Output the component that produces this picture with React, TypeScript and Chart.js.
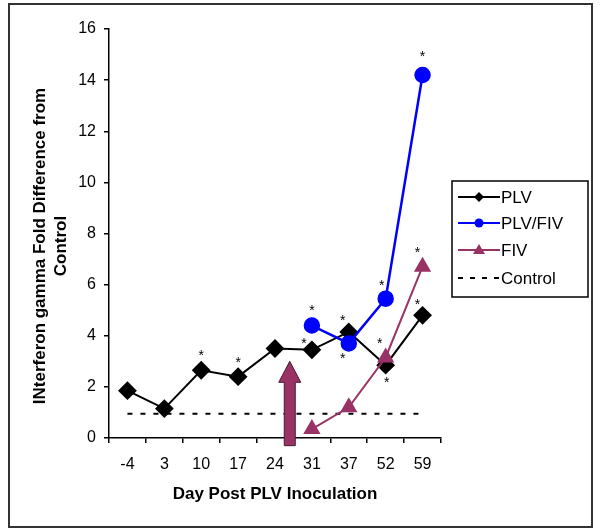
import React, { useEffect, useRef } from "react";
import { Chart, registerables } from "chart.js";

Chart.register(...registerables);

const days = ["-4", "3", "10", "17", "24", "31", "37", "52", "59"];
const plv = [1.85, 1.15, 2.65, 2.4, 3.5, 3.45, 4.15, 2.85, 4.8];
const plvFiv = [null, null, null, null, null, 4.4, 3.7, 5.45, 14.2];
const fiv = [null, null, null, null, null, 0.35, 1.2, 3.15, 6.7];
const control = [0.95, 0.95, 0.95, 0.95, 0.95, 0.95, 0.95, 0.95, 0.95];
const yTicks = [0, 2, 4, 6, 8, 10, 12, 14, 16];
const yTitle = ["INterferon gamma Fold Difference from", "Control"];
const xTitle = "Day Post PLV Inoculation";

// significance marks: [datasetIndex, pointIndex, dx, dy]
const stars: [number, number, number, number][] = [
  [0, 2, 0, -17],
  [0, 3, 0, -17],
  [0, 5, -8, -9],
  [0, 6, -6, -14],
  [0, 7, 1, 15],
  [0, 8, -5, -13],
  [1, 5, 0, -17],
  [1, 6, -6, 13],
  [1, 7, -4, -16],
  [1, 8, 0, -21],
  [2, 7, -6, -16],
  [2, 8, -5, -17],
];

// inoculation arrow: category position and value range
const arrowX = 4.4;
const arrowTop = 3.0;
const arrowBottom = -0.3;

const FONT = "'Liberation Sans', Arial, sans-serif";
const MAROON = "#993366";
const BLUE = "#0000FF";

const legendItems = [
  { label: "PLV", color: "#000000", style: "rectRot", dash: false },
  { label: "PLV/FIV", color: BLUE, style: "circle", dash: false },
  { label: "FIV", color: MAROON, style: "triangle", dash: false },
  { label: "Control", color: "#000000", style: "", dash: true },
];

const extrasPlugin = {
  id: "extras",
  afterDraw(chart: any) {
    const ctx = chart.ctx;
    const xs = chart.scales.x;
    const ys = chart.scales.y;
    ctx.save();
    // outer frame
    ctx.strokeStyle = "#333333";
    ctx.lineWidth = 2;
    ctx.strokeRect(9, 4, 583, 523);

    // y title (two centred lines)
    ctx.save();
    ctx.fillStyle = "#000";
    ctx.font = `bold 17px ${FONT}`;
    ctx.textAlign = "center";
    ctx.textBaseline = "middle";
    const cy = 246;
    [40, 61].forEach((x, k) => {
      ctx.save();
      ctx.translate(x, cy);
      ctx.rotate(-Math.PI / 2);
      ctx.fillText(yTitle[k], 0, 0);
      ctx.restore();
    });
    ctx.restore();

    // arrow
    const cx = xs.getPixelForValue(arrowX);
    const yt = ys.getPixelForValue(arrowTop);
    const yb = ys.getPixelForValue(arrowBottom);
    const hw = 11, sw = 5.5, hh = 21;
    ctx.beginPath();
    ctx.moveTo(cx, yt);
    ctx.lineTo(cx + hw, yt + hh);
    ctx.lineTo(cx + sw, yt + hh);
    ctx.lineTo(cx + sw, yb);
    ctx.lineTo(cx - sw, yb);
    ctx.lineTo(cx - sw, yt + hh);
    ctx.lineTo(cx - hw, yt + hh);
    ctx.closePath();
    ctx.fillStyle = MAROON;
    ctx.fill();
    ctx.strokeStyle = "#4a1830";
    ctx.lineWidth = 1;
    ctx.stroke();

    // asterisks
    ctx.fillStyle = "#000";
    ctx.font = `14px ${FONT}`;
    ctx.textAlign = "center";
    ctx.textBaseline = "middle";
    for (const [d, i, dx, dy] of stars) {
      const pt = chart.getDatasetMeta(d).data[i];
      if (!pt) continue;
      ctx.fillText("*", pt.x + dx, pt.y + dy + 3);
    }

    // legend
    const lx = 452, ly = 181, lw = 136, lh = 116;
    ctx.strokeStyle = "#000";
    ctx.lineWidth = 1.5;
    ctx.strokeRect(lx, ly, lw, lh);
    const rows = [197, 223, 250, 278];
    ctx.font = `17px ${FONT}`;
    ctx.textAlign = "left";
    ctx.textBaseline = "middle";
    legendItems.forEach((it, k) => {
      const y = rows[k];
      ctx.strokeStyle = it.color;
      ctx.lineWidth = 2;
      if (it.dash) ctx.setLineDash([5, 7]);
      ctx.beginPath();
      ctx.moveTo(458, y);
      ctx.lineTo(500, y);
      ctx.stroke();
      ctx.setLineDash([]);
      ctx.fillStyle = it.color;
      if (it.style === "rectRot") {
        ctx.beginPath();
        ctx.moveTo(479, y - 5);
        ctx.lineTo(484, y);
        ctx.lineTo(479, y + 5);
        ctx.lineTo(474, y);
        ctx.closePath();
        ctx.fill();
      } else if (it.style === "circle") {
        ctx.beginPath();
        ctx.arc(479, y, 4.5, 0, Math.PI * 2);
        ctx.fill();
      } else if (it.style === "triangle") {
        ctx.beginPath();
        ctx.moveTo(479, y - 6);
        ctx.lineTo(485, y + 4);
        ctx.lineTo(473, y + 4);
        ctx.closePath();
        ctx.fill();
      }
      ctx.fillStyle = "#000";
      ctx.fillText(it.label, 501, y + 1);
    });
    ctx.restore();
  },
};

export default function App() {
  const ref = useRef<HTMLCanvasElement>(null);
  useEffect(() => {
    document.body.style.margin = "0";
    const chart = new Chart(ref.current!, {
      type: "line",
      data: {
        labels: days,
        datasets: [
          {
            label: "PLV",
            data: plv,
            borderColor: "#000000",
            backgroundColor: "#000000",
            borderWidth: 2,
            pointStyle: "rectRot",
            pointRadius: 8,
            order: 2,
          },
          {
            label: "PLV/FIV",
            data: plvFiv,
            borderColor: BLUE,
            backgroundColor: BLUE,
            borderWidth: 2.5,
            pointStyle: "circle",
            pointRadius: 7,
            order: 1,
          },
          {
            label: "FIV",
            data: fiv,
            borderColor: MAROON,
            backgroundColor: MAROON,
            borderWidth: 2,
            pointStyle: "triangle",
            pointRadius: 8,
            order: 0,
          },
          {
            label: "Control",
            data: control,
            borderColor: "#000000",
            borderWidth: 2,
            borderDash: [5, 8],
            pointRadius: 0,
            order: 3,
          },
        ] as any,
      },
      options: {
        animation: false,
        responsive: false,
        events: [],
        layout: { padding: { left: 10, top: 29, right: 159, bottom: 5 } },
        plugins: { legend: { display: false }, tooltip: { enabled: false } },
        scales: {
          x: {
            type: "category",
            offset: true,
            grid: {
              offset: true,
              drawOnChartArea: false,
              drawTicks: true,
              tickLength: 5,
              color: "#000",
              lineWidth: 1.5,
            },
            border: { display: true, color: "#000", width: 1.5 },
            ticks: { color: "#000", font: { family: FONT, size: 16 }, padding: 12 },
            title: {
              display: true,
              text: xTitle,
              color: "#000",
              font: { family: FONT, size: 17, weight: "bold" },
              padding: { top: 8, bottom: 21 },
            },
            afterFit: (s: any) => {
              s.height = 88;
            },
          },
          y: {
            min: 0,
            max: 16,
            afterBuildTicks: (s: any) => {
              s.ticks = yTicks.map((v) => ({ value: v }));
            },
            grid: {
              drawOnChartArea: false,
              drawTicks: true,
              tickLength: 5,
              color: "#000",
              lineWidth: 1.5,
            },
            border: { display: true, color: "#000", width: 1.5 },
            ticks: { color: "#000", font: { family: FONT, size: 16 }, padding: 8 },
            afterFit: (s: any) => {
              s.width = 99;
            },
          },
        },
      },
      plugins: [extrasPlugin],
    });
    return () => chart.destroy();
  }, []);
  return (
    <div style={{ width: 600, height: 531 }}>
      <canvas ref={ref} width={600} height={531} />
    </div>
  );
}
